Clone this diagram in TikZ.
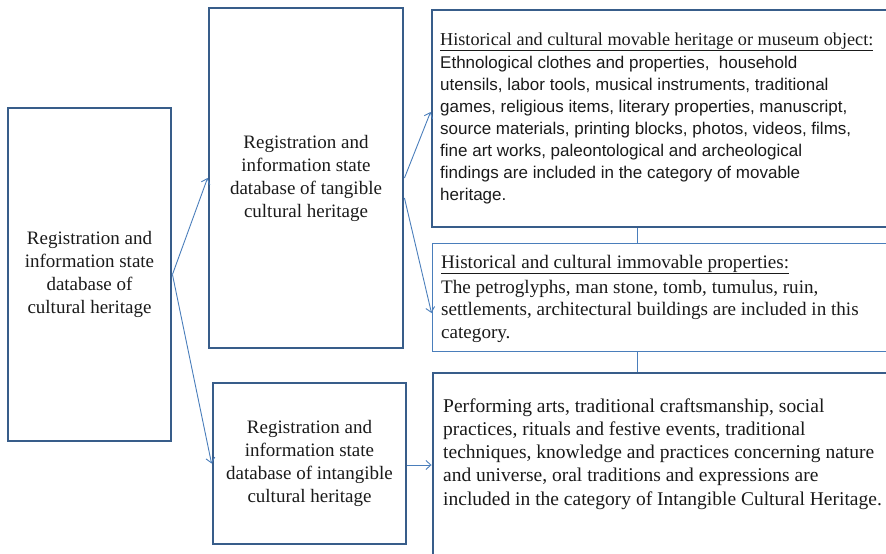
\documentclass[tikz,border=0pt]{standalone}
\usepackage{fontspec}
\setmainfont{Liberation Serif}
\newfontfamily\arialf{Liberation Sans}
\usetikzlibrary{arrows.meta}
\definecolor{boxblue}{RGB}{56,93,138}
\definecolor{lineblue}{RGB}{74,126,187}
\definecolor{txt}{RGB}{26,26,26}
\tikzset{
  bigbox/.style={draw=boxblue, line width=2.9pt, inner sep=0pt, align=center,
    font=\fontsize{19}{23}\selectfont, text=txt},
  thinbox/.style={draw=lineblue, line width=1pt, inner sep=0pt},
  conn/.style={draw=lineblue, line width=0.9pt, -{Straight Barb[length=5pt,width=9pt]}},
  link/.style={draw=lineblue, line width=0.9pt},
  body/.style={anchor=north west, inner sep=0pt, align=left, text=txt},
}
\begin{document}
\begin{tikzpicture}[x=1pt,y=-1pt]
\useasboundingbox (0,0) rectangle (886,554);
\clip (0,0) rectangle (886,554);
% left column
\node[bigbox, minimum width=163pt, minimum height=333pt] (root) at (89.5,274.5)
  {Registration and\\information state\\database of\\cultural heritage};
% middle column
\node[bigbox, minimum width=194pt, minimum height=340pt] (tang) at (306,178)
  {Registration and\\information state\\database of tangible\\cultural heritage};
\node[bigbox, minimum width=193pt, minimum height=161pt] (intang) at (309.5,463.5)
  {Registration and\\information state\\database of intangible\\cultural heritage};
% right column boxes
\node[bigbox, minimum width=568pt, minimum height=217pt] (mov) at (716,118.5) {};
\node[thinbox, minimum width=568pt, minimum height=108pt] (imm) at (716,297) {};
\node[bigbox, minimum width=567pt, minimum height=247pt] (bot) at (716.5,496.5) {};
\coordinate (cx) at (637,0);
% texts in right column
\node[body, font=\fontsize{18.2}{22}\selectfont] (movh) at (440,30)
  {\rule{0pt}{15pt}\underline{Historical and cultural movable heritage or museum object:}};
\node[body, font=\arialf\fontsize{17}{22}\selectfont] (movb) at (440,53)
  {\rule{0pt}{15pt}Ethnological clothes and properties,\ \ household\\
   utensils, labor tools, musical instruments, traditional\\
   games, religious items, literary properties, manuscript,\\
   source materials, printing blocks, photos, videos, films,\\
   fine art works, paleontological and archeological\\
   findings are included in the category of movable\\
   heritage.};
\node[body, font=\fontsize{19.1}{23}\selectfont] (immh) at (441,253)
  {\rule{0pt}{15pt}\underline{Historical and cultural immovable properties:}};
\node[body, font=\fontsize{19.1}{22.7}\selectfont] (immb) at (441,278)
  {\rule{0pt}{15pt}The petroglyphs, man stone, tomb, tumulus, ruin,\\
   settlements, architectural buildings are included in this\\
   category.};
\node[body, font=\fontsize{19.5}{23.2}\selectfont] (botb) at (443,397)
  {\rule{0pt}{15pt}Performing arts, traditional craftsmanship, social\\
   practices, rituals and festive events, traditional\\
   techniques, knowledge and practices concerning nature\\
   and universe, oral traditions and expressions are\\
   included in the category of Intangible Cultural Heritage.};
% connectors
\draw[conn] (root.east) -- (tang.west);
\draw[conn] (root.east) -- (intang.west);
\draw[conn] (tang.east) -- ([yshift=6.5pt]mov.west);
\draw[conn] ([yshift=-20pt]tang.east) -- ([yshift=-16pt]imm.west);
\draw[conn] ([yshift=-1.5pt]intang.east) -- ([yshift=-1.5pt]intang.east -| bot.west);
\draw[link] (mov.south -| cx) -- (imm.north -| cx);
\draw[link] (imm.south -| cx) -- (bot.north -| cx);
\end{tikzpicture}
\end{document}
